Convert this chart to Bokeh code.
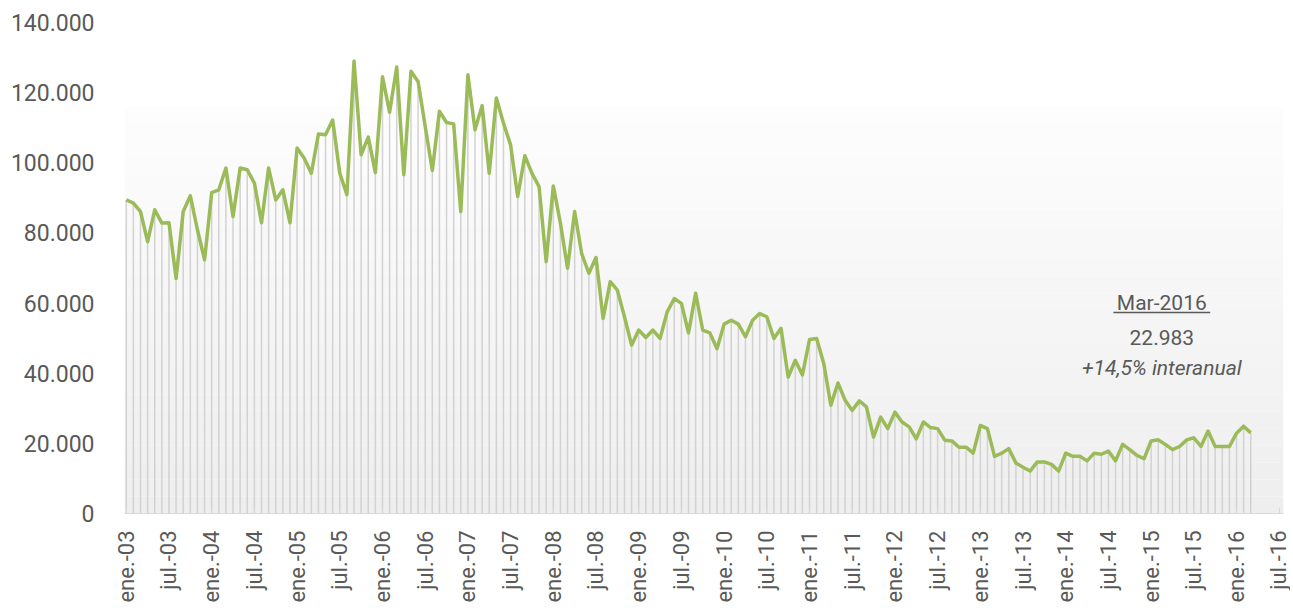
import math
from bokeh.plotting import figure
from bokeh.models import Range1d, FixedTicker, Label, BoxAnnotation, ColumnDataSource
from bokeh.embed import file_html
from bokeh.resources import INLINE

# Monthly values, Jan-2003 .. Mar-2016
values = [
    89400, 88500, 86100, 77500, 86600, 82800, 82900, 67000, 86100, 90600, 80900, 72300,
    91500, 92300, 98500, 84700, 98500, 98000, 94200, 82900, 98500, 89400, 92300, 82900,
    104200, 101300, 97000, 108200, 108000, 112200, 97000, 90900, 129000, 102300, 107300, 97200,
    124500, 114400, 127300, 96600, 126100, 123200, 110400, 97800, 114700, 111500, 111100, 86100,
    125100, 109400, 116300, 97000, 118500, 111300, 105100, 90400, 102000, 97000, 93200, 71800,
    93400, 82800, 69900, 86100, 74000, 68500, 73000, 55600, 66100, 63700, 56100, 48000,
    52300, 50200, 52300, 49900, 57500, 61300, 59900, 51500, 62800, 52300, 51500, 47000,
    54000, 55100, 54000, 50400, 55100, 57000, 56100, 49900, 52800, 38900, 43700, 39500,
    49600, 49900, 42800, 30900, 37200, 32300, 29400, 32100, 30400, 21800, 27500, 24200,
    28900, 26100, 24700, 21300, 26100, 24500, 24200, 20900, 20700, 18900, 18900, 17200,
    25100, 24200, 16300, 17200, 18500, 14400, 13200, 12100, 14700, 14700, 14000, 12100,
    17200, 16300, 16300, 15000, 17200, 16900, 17800, 15000, 19700, 18200, 16600, 15600,
    20700, 21000, 19700, 18200, 19100, 21000, 21600, 19100, 23500, 19100, 19100, 19100,
    22900, 24900, 22983,
]
months = list(range(len(values)))

years = ["03", "04", "05", "06", "07", "08", "09", "10", "11", "12", "13", "14", "15", "16"]
x_tick_labels = []
for yy in years:
    x_tick_labels += ["ene.-" + yy, "jul.-" + yy]
x_tick_pos = [6 * i for i in range(len(x_tick_labels))]

y_ticks = [0, 20000, 40000, 60000, 80000, 100000, 120000, 140000]
y_tick_labels = ["0", "20.000", "40.000", "60.000", "80.000", "100.000", "120.000", "140.000"]

FONT = "Roboto"
TXT = "#595959"

p = figure(width=1290, height=614,
           x_range=Range1d(-0.25, 162.6), y_range=Range1d(0, 140000),
           output_backend="svg", toolbar_location=None,
           min_border_left=124, min_border_right=7,
           min_border_top=22, min_border_bottom=101)
p.outline_line_color = None
p.xgrid.visible = False
p.ygrid.visible = False
p.background_fill_color = "white"

# soft vertical gradient in plot area
n_bands = 24
top_val = 116000
for i in range(n_bands):
    b = top_val * i / n_bands
    t = top_val * (i + 1) / n_bands
    frac = i / (n_bands - 1)
    g = int(round(0xEE + (0xFD - 0xEE) * frac))
    col = "#%02x%02x%02x" % (g, g, g)
    p.add_layout(BoxAnnotation(bottom=b, top=t, fill_color=col, fill_alpha=1.0,
                               line_color=None, level="underlay"))

src = ColumnDataSource(dict(m=months, v=values, z=[0] * len(values)))
p.segment(x0="m", y0="z", x1="m", y1="v", source=src,
          line_color="#d2d2d2", line_width=1.5)
p.line("m", "v", source=src, line_color="#9BBB59", line_width=3.5, line_join="round")

# axes
xa = p.xaxis[0]
xa.ticker = FixedTicker(ticks=x_tick_pos)
xa.major_label_overrides = {pos: lab for pos, lab in zip(x_tick_pos, x_tick_labels)}
xa.major_label_orientation = math.pi / 2
xa.major_label_text_font = FONT
xa.major_label_text_font_size = "22px"
xa.major_label_text_color = TXT
xa.major_label_standoff = 17
xa.axis_line_color = "#d9d9d9"
xa.major_tick_line_color = "#d9d9d9"
xa.major_tick_in = 6
xa.major_tick_out = 0
xa.minor_tick_line_color = None

ya = p.yaxis[0]
ya.ticker = FixedTicker(ticks=y_ticks)
ya.major_label_overrides = {t: lab for t, lab in zip(y_ticks, y_tick_labels)}
ya.major_label_text_font = FONT
ya.major_label_text_font_size = "23px"
ya.major_label_text_color = TXT
ya.major_label_standoff = 24
ya.axis_line_color = None
ya.major_tick_line_color = None
ya.minor_tick_line_color = None

# annotation
ann_x = 145.5
last_label = "Mar-2016"
last_value = "{:,}".format(values[-1]).replace(",", ".")
yoy = "+14,5% interanual"
p.add_layout(Label(x=ann_x, y=60000, text=last_label, text_align="center", text_baseline="middle",
                   text_font=FONT, text_font_size="21px", text_color=TXT))
p.segment(x0=[ann_x - 6.8], y0=[57300], x1=[ann_x + 6.8], y1=[57300],
          line_color=TXT, line_width=1.5)
p.add_layout(Label(x=ann_x, y=50300, text=last_value, text_align="center", text_baseline="middle",
                   text_font=FONT, text_font_size="21px", text_color=TXT))
p.add_layout(Label(x=ann_x, y=41400, text=yoy, text_align="center", text_baseline="middle",
                   text_font=FONT, text_font_size="21px", text_font_style="italic", text_color=TXT))

open("out.html", "w").write(file_html(p, INLINE))
